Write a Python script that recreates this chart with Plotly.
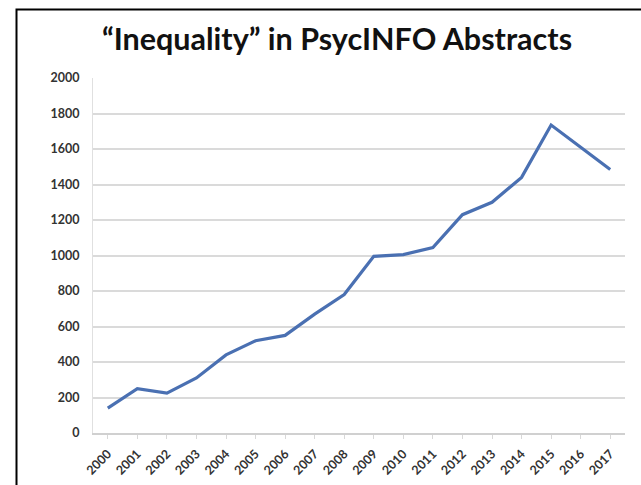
import plotly.graph_objects as go

years = [str(y) for y in range(2000, 2018)]
counts = [140, 250, 225, 310, 440, 520, 550, 670, 780, 995, 1005, 1045, 1230, 1300, 1440, 1735, 1610, 1485]
y_ticks = list(range(0, 2001, 200))

W, H = 641, 485
L, R, T, B = 93, 16, 78, 52
pw, ph = W - L - R, H - T - B

fig = go.Figure()
fig.add_trace(go.Scatter(
    x=years, y=counts, mode="lines",
    line=dict(color="#4a70b2", width=3.2),
    hoverinfo="x+y", showlegend=False,
))

def px_to_paper_x(px):
    return (px - L) / pw

def px_to_paper_y(py):
    return (H - B - py) / ph

fig.update_layout(
    width=W, height=H,
    margin=dict(l=L, r=R, t=T, b=B, pad=0, autoexpand=False),
    paper_bgcolor="white", plot_bgcolor="white",
    title=dict(
        text="\u201cInequality\u201d in PsycINFO Abstracts",
        x=px_to_paper_x(337), xref="paper", xanchor="center",
        y=1 - 39 / H, yref="container", yanchor="middle",
        font=dict(family="Lato", size=30.5, color="#111111", weight="bold"),
    ),
    xaxis=dict(
        type="category", tickangle=-45, automargin=False,
        tickfont=dict(family="Lato", size=12.5, color="#333333", weight="bold"),
        showgrid=False, showline=True, linecolor="#d0d0d0", linewidth=1.5,
        ticks="outside", ticklen=4, tickcolor="#d8d8d8",
        ticklabelstandoff=3,
        range=[-0.5, len(years) - 0.5], fixedrange=True,
    ),
    yaxis=dict(
        range=[0, 2000], tickvals=y_ticks, automargin=False,
        tickfont=dict(family="Lato", size=12.5, color="#333333", weight="bold"),
        showgrid=True, gridcolor="#dadada", gridwidth=2,
        zeroline=False, showline=True, linecolor="#e0e0e0", linewidth=1,
        ticklabelstandoff=10, fixedrange=True,
    ),
    shapes=[dict(
        type="rect", xref="paper", yref="paper",
        x0=px_to_paper_x(16.5), x1=px_to_paper_x(700),
        y0=px_to_paper_y(540), y1=px_to_paper_y(9.5),
        line=dict(color="black", width=2), fillcolor="rgba(0,0,0,0)",
        layer="above",
    )],
)

fig.write_html("out.html")
